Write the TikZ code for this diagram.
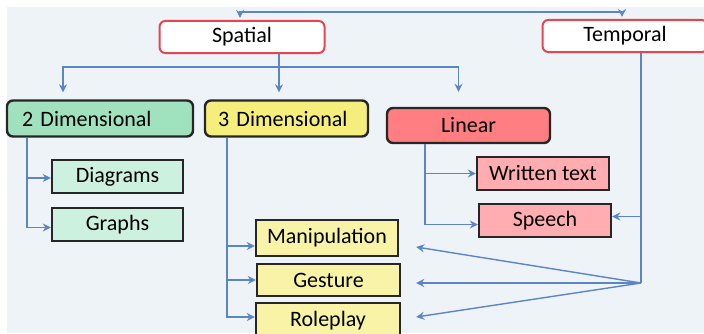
\documentclass[tikz,border=0pt]{standalone}
\usepackage{fontspec}
\setmainfont{Carlito}
\usetikzlibrary{positioning}
\usetikzlibrary{arrows.meta}
\definecolor{bgblue}{HTML}{EEF3F8}
\definecolor{linkblue}{HTML}{5B85C5}
\definecolor{topred}{HTML}{E94550}
\definecolor{greendark}{HTML}{A0E2BE}
\definecolor{greenlight}{HTML}{CDF1DF}
\definecolor{yellowdark}{HTML}{F6EE7C}
\definecolor{yellowlight}{HTML}{F8F3A6}
\definecolor{reddark}{HTML}{FF7E82}
\definecolor{redlight}{HTML}{FFADB0}

\begin{document}
\begin{tikzpicture}[x=0.5pt, y=-0.5pt,
			font=\fontsize{11}{13}\selectfont,
			topnode/.style={draw=topred, line width=1pt, fill=white, rounded corners=3pt, minimum width=82.5pt, minimum height=15.5pt},
			mainnode/.style={draw=black!85, line width=1.2pt, rounded corners=3pt, minimum height=18pt},
			subnode/.style={draw=black!85, line width=1.2pt, minimum height=16.5pt},
			link/.style={draw=linkblue, line width=0.7pt},
			arrow/.style={link, -{Stealth[length=4pt, width=4pt]}},
			]
			\useasboundingbox (0,0) rectangle (704,333);
			\clip (0,0) rectangle (704,333);
			\fill[bgblue] (7,7) rectangle (704,333);

			%Nodes
			\node[topnode]      (spatial)   at 	(242,37)      {Spatial};
			\node[topnode]      (temporal)  at 	(625,36)      {Temporal};
			\node[mainnode, fill=greendark, text width=78pt, inner xsep=7.5pt, align=left]      (dim2)  at 	(100,118.5)   {2 Dimensional};
			\node[mainnode, fill=yellowdark, text width=68.5pt, inner xsep=6.5pt, align=left]   (dim3)  at 	(286.5,118.5) {3 Dimensional};
			\node[mainnode, fill=reddark, minimum width=81.5pt, minimum height=17.5pt]          (linear) at 	(468.5,125.5) {Linear};
			\node[subnode, fill=greenlight, minimum width=65.5pt]     (diagrams)  at 	(117.5,176.5) {Diagrams};
			\node[subnode, fill=greenlight, minimum width=65.5pt]     (graphs)    at 	(117.5,224.5) {Graphs};
			\node[subnode, fill=redlight, minimum width=66pt]         (written)   at 	(543,173.5)   {Written text};
			\node[subnode, fill=redlight, minimum width=66pt]         (speech)    at 	(545,220.5)   {Speech};
			\node[subnode, fill=yellowlight, minimum width=71pt, minimum height=18pt]   (manip)    at 	(327,238)     {Manipulation};
			\node[subnode, fill=yellowlight, minimum width=71.5pt, minimum height=16pt] (gesture)  at 	(328.5,280)   {Gesture};
			\node[subnode, fill=yellowlight, minimum width=72pt, minimum height=18pt]   (roleplay) at 	(328,321)     {Roleplay};

			%Junctions
			\coordinate (topbar) at (0,12);
			\coordinate (spjoin) at (279,67);
			\coordinate (tpjoin) at (641,283);

			%Lines
			\draw[arrow, {Stealth[length=4pt, width=4pt]}-{Stealth[length=4pt, width=4pt]}, shorten <=1pt, shorten >=1pt] ([xshift=-1pt]spatial.north) |- (topbar -| 622,0) -- ([xshift=-1.5pt]temporal.north);
			\draw[link] (spatial.south -| spjoin) -- (spjoin);
			\draw[arrow, shorten >=3.5pt] (spjoin) -| ([xshift=-18.5pt]dim2.north);
			\draw[arrow, shorten >=3.5pt] (spjoin) -- (dim3.north -| spjoin);
			\draw[arrow, shorten >=7.5pt] (spjoin) -| ([xshift=-5pt]linear.north);

			\draw[arrow] ([xshift=10.5pt]dim2.south west) |- ([yshift=-0.75pt]diagrams.west);
			\draw[arrow] ([xshift=10.5pt]dim2.south west) |- ([yshift=-1.5pt]graphs.west);

			\draw[arrow] ([xshift=11.5pt]dim3.south west) |- ([yshift=-4pt]manip.west);
			\draw[arrow] ([xshift=11.5pt]dim3.south west) |- (gesture.west);
			\draw[arrow] ([xshift=11.5pt]dim3.south west) |- ([yshift=2pt]roleplay.west);

			\draw[arrow] ([xshift=19.5pt]linear.south west) |- (written.west);
			\draw[arrow] ([xshift=19.5pt]linear.south west) |- ([yshift=-2pt]speech.west);

			\draw[link] (temporal.south -| tpjoin) -- (tpjoin);
			\draw[arrow] ([yshift=2pt]speech.east -| tpjoin) -- ([yshift=2pt]speech.east);
			\draw[arrow] (tpjoin) -- ([xshift=8.5pt, yshift=-4.5pt]manip.east);
			\draw[arrow] (tpjoin) -- ([xshift=7.5pt, yshift=-1.5pt]gesture.east);
			\draw[arrow] (tpjoin) -- ([xshift=7.5pt, yshift=2pt]roleplay.east);
		\end{tikzpicture}
\end{document}
